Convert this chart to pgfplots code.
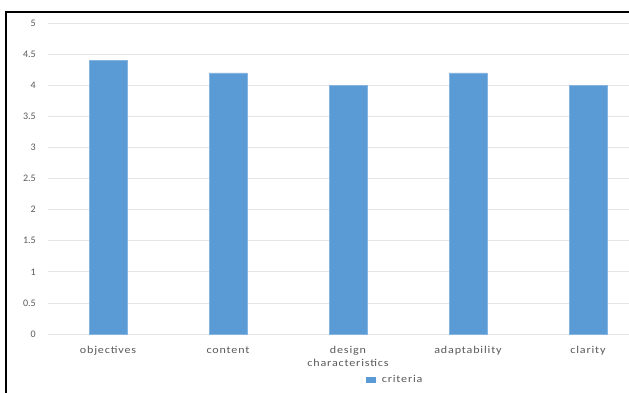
\documentclass[border=0pt]{standalone}
\usepackage{fontspec}
\setmainfont{Carlito}
\newfontfamily\labelfont[LetterSpace=8, FakeStretch=1.15]{Carlito}
\usepackage{pgfplots}
\pgfplotsset{compat=1.18}
\definecolor{barblue}{HTML}{5B9BD5}
\definecolor{txtgray}{HTML}{595959}
\definecolor{gridgray}{HTML}{E6E6E6}
\begin{document}
\begin{tikzpicture}
\useasboundingbox (0pt,0pt) rectangle (629pt,392pt);
\clip (0pt,0pt) rectangle (629pt,392pt);
% chart frame (runs past the page on the right and bottom)
\draw[line width=2pt, black] (6pt,-10pt) -- (6pt,380pt) -- (650pt,380pt);
\begin{axis}[
  at={(48pt,58pt)}, anchor=south west,
  scale only axis, width=600pt, height=311pt,
  xmin=-0.5, xmax=4.5, ymin=0, ymax=5,
  ytick distance=0.5,
  xtick=data,
  xticklabels={objectives, content, design\\characteristics, adaptability, clarity},
  axis line style={draw=none},
  tick style={draw=none},
  ymajorgrids, grid style={gridgray, line width=0.8pt},
  /pgf/number format/assume math mode=true,
  /pgf/number format/fixed,
  yticklabel style={font=\fontsize{10}{11}\selectfont, text=txtgray, inner sep=0pt, anchor=east, xshift=-12pt},
  xticklabel style={font=\labelfont\fontsize{10.5}{13}\selectfont, text=txtgray, inner sep=0pt, anchor=north, yshift=-8pt, align=center},
  ybar, bar width=38pt,
  legend style={at={(0.579,-0.148)}, anchor=center, draw=none, fill=none,
    font=\labelfont\fontsize{10.5}{13}\selectfont, text=txtgray, inner sep=0pt,
    /tikz/every odd column/.append style={column sep=4pt}},
  legend image code/.code={\fill[barblue] (0pt,-2.5pt) rectangle (9pt,3pt);},
]
\addplot[fill=barblue, draw=barblue!75!white, line width=0.5pt]
  coordinates {(0,4.4) (1,4.2) (2,4.0) (3,4.2) (4,4.0)};
\addlegendentry{criteria}
\end{axis}
\end{tikzpicture}
\end{document}
